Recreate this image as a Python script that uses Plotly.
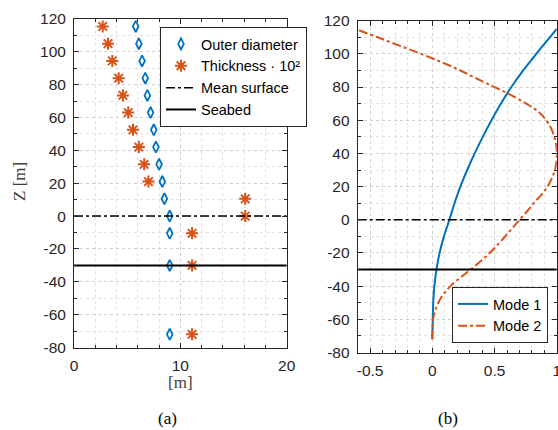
import plotly.graph_objects as go

# ---------------- data ----------------
z_levels = [115.5, 105, 94.5, 84, 73.5, 63, 52.5, 42, 31.5, 21, 10.5, 0, -10.5, -30, -72]
outer_diameter = [5.8, 6.1, 6.4, 6.7, 6.9, 7.2, 7.5, 7.7, 8.0, 8.3, 8.5, 9.0, 9.0, 9.0, 9.0]
thickness_x100 = [2.7, 3.2, 3.6, 4.2, 4.6, 5.1, 5.55, 6.1, 6.6, 7.0, 16.1, 16.1, 11.1, 11.1, 11.1]

mean_surface_z = 0
seabed_z = -30

mode1_z = [-72, -60, -50, -40, -30, -20, -10, 0, 10, 20, 30, 40, 50, 60, 70, 80, 90, 100, 115]
mode1_x = [0, 0.003, 0.007, 0.016, 0.033, 0.058, 0.093, 0.137, 0.178, 0.225, 0.28, 0.34,
           0.405, 0.475, 0.55, 0.635, 0.73, 0.835, 1.0]

mode2_z = [-72, -65, -60, -55, -50, -45, -40, -35, -30, -25, -20, -15, -10, -5, 0, 5, 10, 15,
           20, 25, 30, 35, 40, 45, 50, 55, 60, 65, 70, 75, 80, 85, 90, 95, 100, 105, 110, 114.5]
mode2_x = [0, 0.001, 0.006, 0.021, 0.048, 0.088, 0.145, 0.222, 0.307, 0.388, 0.46, 0.525, 0.585,
           0.643, 0.70, 0.76, 0.815, 0.875, 0.925, 0.96, 0.985, 0.997, 1.0, 0.995, 0.98, 0.955,
           0.915, 0.855, 0.755, 0.635, 0.50, 0.36, 0.225, 0.075, -0.09, -0.265, -0.44, -0.6]

left_xrange = [0, 20]
left_xticks = [0, 10, 20]
left_xticklabels = ["0", "10", "20"]
right_xrange = [-0.6, 1]
right_xticks = [-0.5, 0, 0.5, 1]
right_xticklabels = ["-0.5", "0", "0.5", "1"]
yrange = [-80, 120]
yticks = [-80, -60, -40, -20, 0, 20, 40, 60, 80, 100, 120]
yticklabels = ["-80", "-60", "-40", "-20", "0", "20", "40", "60", "80", "100", "120"]

BLUE = "#0072BD"
ORANGE = "#D95319"
AX = "#262626"
SANS = "Liberation Sans, Arial, sans-serif"
SERIF = "Liberation Serif, Times New Roman, serif"

W, H = 558, 430


def px(x):
    return x / W


def py(y):
    return 1 - y / H


fig = go.Figure()

# ---- left panel ----
fig.add_trace(go.Scatter(x=outer_diameter, y=z_levels, mode="markers", name="Outer diameter",
                         marker=dict(symbol="diamond-tall-open", size=8, color=BLUE,
                                     line=dict(width=1.8, color=BLUE)),
                         xaxis="x", yaxis="y", legend="legend"))
fig.add_trace(go.Scatter(x=thickness_x100, y=z_levels, mode="markers",
                         name="Thickness · 10²",
                         marker=dict(symbol="asterisk-open", size=10, color=ORANGE,
                                     line=dict(width=2, color=ORANGE)),
                         xaxis="x", yaxis="y", legend="legend"))
fig.add_trace(go.Scatter(x=left_xrange, y=[mean_surface_z] * 2, mode="lines", name="Mean surface",
                         line=dict(color="black", width=1.5, dash="dashdot"),
                         xaxis="x", yaxis="y", legend="legend"))
fig.add_trace(go.Scatter(x=left_xrange, y=[seabed_z] * 2, mode="lines", name="Seabed",
                         line=dict(color="black", width=2),
                         xaxis="x", yaxis="y", legend="legend"))

# ---- right panel ----
fig.add_trace(go.Scatter(x=mode1_x, y=mode1_z, mode="lines", name="Mode 1",
                         line=dict(color=BLUE, width=2, shape="spline"),
                         xaxis="x2", yaxis="y2", legend="legend2"))
fig.add_trace(go.Scatter(x=mode2_x, y=mode2_z, mode="lines", name="Mode 2",
                         line=dict(color=ORANGE, width=2, dash="dashdot", shape="spline"),
                         xaxis="x2", yaxis="y2", legend="legend2"))
fig.add_trace(go.Scatter(x=right_xrange, y=[mean_surface_z] * 2, mode="lines", showlegend=False,
                         line=dict(color="black", width=1.5, dash="dashdot"),
                         xaxis="x2", yaxis="y2"))
fig.add_trace(go.Scatter(x=right_xrange, y=[seabed_z] * 2, mode="lines", showlegend=False,
                         line=dict(color="black", width=2),
                         xaxis="x2", yaxis="y2"))


def axis_common():
    return dict(showline=True, linecolor=AX, linewidth=1, mirror="ticks",
                ticks="inside", ticklen=5, tickcolor=AX, tickwidth=1,
                showgrid=True, gridcolor="#cfcfcf", griddash="dot", gridwidth=1,
                zeroline=False, tickfont=dict(family=SANS, size=15.5, color=AX),
                fixedrange=True, automargin=False, ticklabelstandoff=4,
                ticklabeloverflow="allow")


def minor(dt):
    return dict(dtick=dt, tick0=0, showgrid=True, gridcolor="#e2e2e2", griddash="dot",
                ticks="inside", ticklen=3, tickcolor=AX)


xa = axis_common()
xa.update(domain=[px(74), px(286.7)], range=left_xrange, tickmode="array",
          tickvals=left_xticks, ticktext=left_xticklabels, anchor="y", minor=minor(2))
ya = axis_common()
ya.update(domain=[py(347.5), py(19)], range=yrange, tickmode="array",
          tickvals=yticks, ticktext=yticklabels, anchor="x", minor=minor(10))
xa2 = axis_common()
xa2.update(domain=[px(357.7), px(556.8)], range=right_xrange, tickmode="array",
           tickvals=right_xticks, ticktext=right_xticklabels, anchor="y2", minor=minor(0.1))
ya2 = axis_common()
ya2.update(domain=[py(352.5), py(20.7)], range=yrange, tickmode="array",
           tickvals=yticks, ticktext=yticklabels, anchor="x2", minor=minor(10))

legend_common = dict(bgcolor="white", bordercolor=AX, borderwidth=1,
                     font=dict(family=SANS, size=14.5, color="black"),
                     tracegroupgap=0, itemwidth=30)

ann_font = dict(family=SERIF, size=17, color="#404040")
fig.update_layout(
    width=W, height=H,
    margin=dict(l=0, r=0, t=0, b=0, autoexpand=False),
    paper_bgcolor="white", plot_bgcolor="white",
    xaxis=xa, yaxis=ya, xaxis2=xa2, yaxis2=ya2,
    showlegend=True,
    legend=dict(x=px(160), y=py(27), xanchor="left", yanchor="top", **legend_common),
    legend2=dict(x=px(548), y=py(343), xanchor="right", yanchor="bottom", **legend_common),
    annotations=[
        dict(text="Z [m]", x=px(20), y=py(182), textangle=-90, font=ann_font),
        dict(text="[m]", x=px(180.5), y=py(382), font=ann_font),
        dict(text="(a)", x=px(167), y=py(418), font=dict(ann_font, color="black")),
        dict(text="(b)", x=px(448), y=py(418), font=dict(ann_font, color="black")),
    ],
)
fig.update_annotations(xref="paper", yref="paper", showarrow=False,
                       xanchor="center", yanchor="middle")

# remove the browser's default 8px page margin so the figure fills the window
fig.write_html("out.html", config={"displayModeBar": False},
               post_script="document.body.style.margin='0';document.body.style.overflow='hidden';")
